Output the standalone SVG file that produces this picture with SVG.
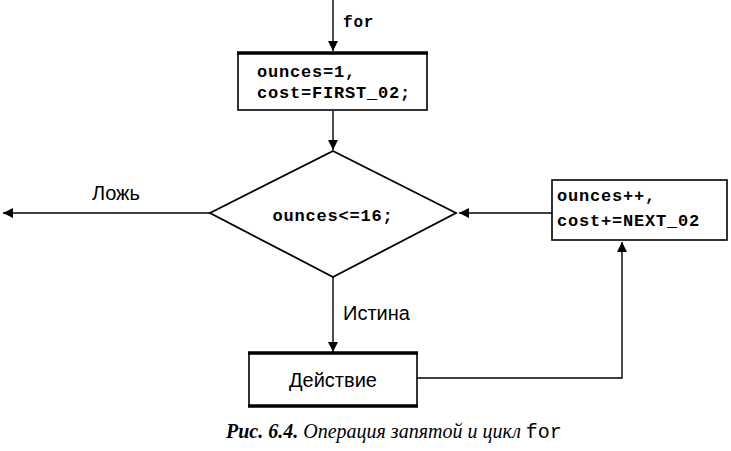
<svg xmlns="http://www.w3.org/2000/svg" width="731" height="451" viewBox="0 0 731 451">
  <defs>
    <style>
      .code { font-family: "Liberation Mono", "DejaVu Sans Mono", monospace; font-weight: bold; font-size: 17px; letter-spacing: 0.8px; fill: #000; }
      .lbl { font-family: "Liberation Sans", Arial, sans-serif; font-size: 20px; fill: #000; }
      .box { fill: #fff; stroke: #000; stroke-width: 1.6; }
      .thick { stroke: #000; stroke-width: 3.5; }
      .line { fill: none; stroke: #000; stroke-width: 1.4; }
      .cap { font-family: "Liberation Serif", "Times New Roman", serif; font-style: italic; font-size: 20px; fill: #000; }
    </style>
    <marker id="arr" viewBox="0 0 10 10" refX="10" refY="5" markerWidth="10" markerHeight="10" markerUnits="userSpaceOnUse" orient="auto">
      <path d="M0,0 L10,5 L0,10 z" fill="#000"/>
    </marker>
  </defs>

  <g id="connectors">
    <line class="line" x1="333" y1="0" x2="333" y2="51" marker-end="url(#arr)"/>
    <line class="line" x1="333" y1="111" x2="333" y2="150" marker-end="url(#arr)"/>
    <line class="line" x1="210" y1="213" x2="3" y2="213" marker-end="url(#arr)"/>
    <line class="line" x1="552" y1="213" x2="459" y2="213" marker-end="url(#arr)"/>
    <line class="line" x1="333" y1="277" x2="333" y2="352" marker-end="url(#arr)"/>
    <polyline class="line" points="417,378 622,378 622,242" marker-end="url(#arr)"/>
  </g>

  <g id="label-for">
    <text class="code" x="343" y="27" style="font-size:16px">for</text>
  </g>
  <g id="label-false">
    <text class="lbl" x="92" y="200">Ложь</text>
  </g>
  <g id="label-true">
    <text class="lbl" x="343" y="320">Истина</text>
  </g>

  <g id="init">
    <rect class="box" x="238" y="53" width="189" height="57"/>
    <line class="thick" x1="237" y1="53" x2="428" y2="53"/>
    <text class="code" x="257" y="77">ounces=1,</text>
    <text class="code" x="257" y="98">cost=FIRST_02;</text>
  </g>

  <g id="test">
    <polygon points="333,151 456,213 333,277 210,213" fill="#fff" stroke="#000" stroke-width="1.8"/>
    <text class="code" x="333" y="221" text-anchor="middle">ounces&lt;=16;</text>
  </g>

  <g id="update">
    <rect class="box" x="552" y="180" width="175" height="60"/>
    <text class="code" x="557" y="201">ounces++,</text>
    <text class="code" x="557" y="226">cost+=NEXT_02</text>
  </g>

  <g id="action">
    <rect class="box" x="249" y="353" width="168" height="53"/>
    <line class="thick" x1="248" y1="353" x2="418" y2="353"/>
    <line class="thick" x1="248" y1="406" x2="418" y2="406"/>
    <text class="lbl" x="333" y="387" text-anchor="middle">Действие</text>
  </g>

  <g id="caption">
    <text class="cap" x="226" y="438"><tspan font-weight="bold">Рис. 6.4.</tspan> Операция запятой и цикл <tspan font-family="Liberation Mono, monospace" font-style="normal">for</tspan></text>
  </g>
</svg>
